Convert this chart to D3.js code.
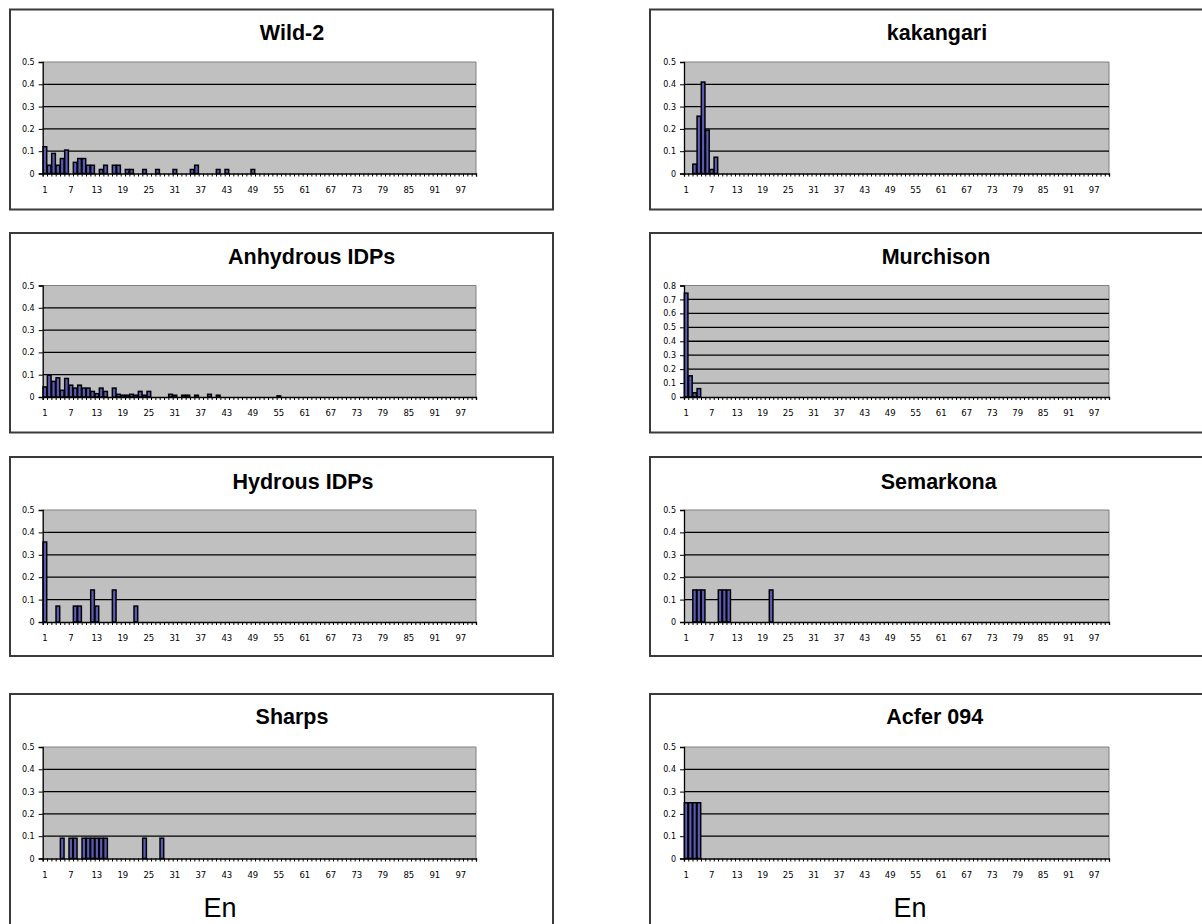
<!DOCTYPE html>
<html><head><meta charset="utf-8">
<script src="https://cdn.jsdelivr.net/npm/d3@7"></script>
<style>body{margin:0;background:#fff;overflow:hidden}</style>
</head><body>
<svg id="c" width="1202" height="924"></svg>
<script>
// ---------- data ----------
const categories = d3.range(1, 101);
const xTickLabels = d3.range(1, 101, 6);           // 1, 7, 13, ... 97
const yTicks05 = [0, 0.1, 0.2, 0.3, 0.4, 0.5];
const yTicks08 = [0, 0.1, 0.2, 0.3, 0.4, 0.5, 0.6, 0.7, 0.8];
const panelTitles = ["Wild-2", "kakangari", "Anhydrous IDPs", "Murchison",
                     "Hydrous IDPs", "Semarkona", "Sharps", "Acfer 094"];
const axisTitle = "En";

// [category, fraction]
const wild2 = [[1,0.12],[2,0.037],[3,0.09],[4,0.037],[5,0.067],[6,0.105],[8,0.05],[9,0.067],
  [10,0.067],[11,0.037],[12,0.037],[14,0.018],[15,0.037],[17,0.037],[18,0.037],[20,0.018],
  [21,0.018],[24,0.018],[27,0.018],[31,0.018],[35,0.018],[36,0.037],[41,0.018],[43,0.018],[49,0.018]];
const kakangari = [[3,0.042],[4,0.257],[5,0.41],[6,0.195],[7,0.018],[8,0.073]];
const anhydrousIDPs = [[1,0.045],[2,0.098],[3,0.07],[4,0.086],[5,0.03],[6,0.083],[7,0.053],[8,0.04],
  [9,0.053],[10,0.04],[11,0.04],[12,0.025],[13,0.015],[14,0.04],[15,0.025],[17,0.04],[18,0.012],
  [19,0.008],[20,0.008],[21,0.012],[22,0.008],[23,0.025],[24,0.008],[25,0.025],[30,0.012],
  [31,0.008],[33,0.008],[34,0.008],[36,0.008],[39,0.012],[41,0.008],[55,0.005]];
const murchison = [[1,0.745],[2,0.152],[3,0.03],[4,0.06]];
const hydrousIDPs = [[1,0.357],[4,0.071],[8,0.071],[9,0.071],[12,0.143],[13,0.071],[17,0.143],[22,0.071]];
const semarkona = [[3,0.143],[4,0.143],[5,0.143],[9,0.143],[10,0.143],[11,0.143],[21,0.143]];
const sharps = [[5,0.091],[7,0.091],[8,0.091],[10,0.091],[11,0.091],[12,0.091],[13,0.091],
  [14,0.091],[15,0.091],[24,0.091],[28,0.091]];
const acfer094 = [[1,0.25],[2,0.25],[3,0.25],[4,0.25]];

const panelData = [wild2, kakangari, anhydrousIDPs, murchison, hydrousIDPs, semarkona, sharps, acfer094];
const panelYTicks = [yTicks05, yTicks05, yTicks05, yTicks08, yTicks05, yTicks05, yTicks05, yTicks05];

// ---------- layout ----------
const colBox = [{x: 10, w: 543}, {x: 650, w: 570}];
const colPlot = [{x0: 42.7, x1: 476}, {x0: 684, x1: 1109}];
const rowBox = [{y0: 9.5, y1: 209.5}, {y0: 233, y1: 432.5}, {y0: 457, y1: 656}, {y0: 694, y1: 960}];
const rowPlot = [{t: 62, b: 173.5}, {t: 285.5, b: 397}, {t: 510, b: 622}, {t: 747, b: 858.5}];
const titleX = [292, 937, 311.7, 936, 303, 938.7, 292, 934.7];
const titleY = [39.5, 264.2, 489.2, 724];

const svg = d3.select("#c");

panelData.forEach((data, i) => {
  const col = i % 2, row = Math.floor(i / 2);
  const g = svg.append("g");
  const cb = colBox[col], rb = rowBox[row];
  g.append("rect").attr("x", cb.x).attr("y", rb.y0).attr("width", cb.w).attr("height", rb.y1 - rb.y0)
    .attr("fill", "#fff").attr("stroke", "#3a3a3a").attr("stroke-width", 2);

  const cp = colPlot[col], rp = rowPlot[row];
  const ticks = panelYTicks[i];
  const yMax = ticks[ticks.length - 1];
  const x = d3.scaleBand().domain(categories).range([cp.x0, cp.x1]).padding(0);
  const xb = d3.scaleLinear().domain([0, categories.length]).range([cp.x0, cp.x1]);
  const y = d3.scaleLinear().domain([0, yMax]).range([rp.b, rp.t]);

  // plot area
  g.append("rect").attr("x", cp.x0).attr("y", rp.t).attr("width", cp.x1 - cp.x0).attr("height", rp.b - rp.t)
    .attr("fill", "#c0c0c0");
  g.append("path").attr("d", `M${cp.x0},${rp.t}H${cp.x1}V${rp.b}`).attr("fill", "none")
    .attr("stroke", "#808080").attr("stroke-width", 1);

  // gridlines
  g.selectAll(".grid").data(ticks.filter(t => t > 0 && t < yMax)).enter().append("line")
    .attr("x1", cp.x0).attr("x2", cp.x1).attr("y1", d => y(d)).attr("y2", d => y(d))
    .attr("stroke", "#000").attr("stroke-width", 1.3);

  // bars
  const bw = x.bandwidth() * 0.85;
  g.selectAll(".bar").data(data).enter().append("rect")
    .attr("x", d => x(d[0]) + (x.bandwidth() - bw) / 2)
    .attr("y", d => y(d[1]))
    .attr("width", bw)
    .attr("height", d => y(0) - y(d[1]))
    .attr("fill", "#5c5cb8").attr("stroke", "#000").attr("stroke-width", 1.5);

  // x axis: boundary ticks
  g.append("g").attr("transform", `translate(0,${rp.b})`)
    .call(d3.axisBottom(xb).tickValues(d3.range(0, categories.length + 1)).tickSize(3).tickFormat(""))
    .call(a => a.select(".domain").attr("stroke", "#000").attr("stroke-width", 1.3))
    .call(a => a.selectAll(".tick line").attr("stroke", "#000"));
  // x labels
  g.append("g").attr("transform", `translate(0,${rp.b})`)
    .call(d3.axisBottom(x).tickValues(xTickLabels).tickSize(0).tickPadding(13))
    .call(a => a.select(".domain").remove())
    .call(a => a.selectAll("text").attr("font-family", "DejaVu Sans").attr("font-size", 8.5).attr("fill", "#000"));

  // y axis
  g.append("g").attr("transform", `translate(${cp.x0},0)`)
    .call(d3.axisLeft(y).tickValues(ticks).tickSize(4).tickPadding(4)
      .tickFormat(d => d === 0 ? "0" : d3.format(".1f")(d)))
    .call(a => a.select(".domain").attr("stroke", "#000").attr("stroke-width", 1.3))
    .call(a => a.selectAll(".tick line").attr("stroke", "#000"))
    .call(a => a.selectAll("text").attr("font-family", "DejaVu Sans").attr("font-size", 8).attr("fill", "#000"));

  // title
  g.append("text").attr("x", titleX[i]).attr("y", titleY[row]).attr("text-anchor", "middle")
    .attr("font-family", "Liberation Sans, Arial, sans-serif").attr("font-weight", "bold")
    .attr("font-size", 21.5).text(panelTitles[i]);

  if (row === 3) {
    g.append("text").attr("x", col === 0 ? 220 : 910).attr("y", 917).attr("text-anchor", "middle")
      .attr("font-family", "Liberation Sans, Arial, sans-serif").attr("font-size", 27)
      .text(axisTitle);
  }
});
</script>
</body></html>
